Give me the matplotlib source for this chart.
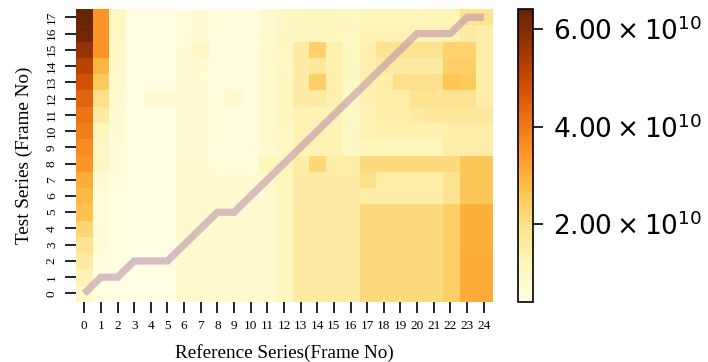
import numpy as np
import matplotlib
matplotlib.use("Agg")
import matplotlib.pyplot as plt
from matplotlib.ticker import FuncFormatter

# Frame indices of the two series
ref_frames = list(range(25))
test_frames = list(range(18))

# Accumulated alignment cost (units of 1e10), one list per test frame,
# listed from test frame 17 (top) down to test frame 0 (bottom)
cost_row_17 = [6.41, 3.50, 1.05, 0.45, 0.45, 0.45, 0.60, 0.70, 0.55, 0.55, 0.55, 0.80, 1.00, 1.10, 1.10, 1.10, 1.00, 1.20, 1.20, 1.20, 1.20, 1.25, 1.25, 1.90, 1.90]
cost_row_16 = [6.25, 3.50, 1.00, 0.45, 0.45, 0.45, 0.60, 0.70, 0.55, 0.55, 0.55, 0.80, 1.00, 1.10, 1.10, 1.10, 1.00, 1.30, 1.30, 1.30, 1.30, 1.30, 1.35, 1.55, 1.50]
cost_row_15 = [5.70, 3.50, 0.95, 0.45, 0.45, 0.45, 0.70, 1.00, 0.55, 0.55, 0.55, 0.90, 1.00, 1.55, 2.35, 1.40, 1.00, 1.40, 1.90, 1.90, 1.90, 1.90, 2.30, 2.30, 1.50]
cost_row_14 = [5.20, 2.90, 0.90, 0.45, 0.45, 0.45, 0.70, 0.80, 0.55, 0.55, 0.55, 0.90, 1.00, 1.55, 1.70, 1.40, 1.00, 1.40, 1.60, 1.60, 1.60, 1.60, 2.40, 2.40, 1.50]
cost_row_13 = [4.80, 2.50, 0.85, 0.45, 0.45, 0.45, 0.70, 0.75, 0.55, 0.55, 0.55, 0.90, 1.10, 1.55, 2.40, 1.40, 1.00, 1.40, 1.50, 2.00, 2.00, 2.00, 2.60, 2.50, 1.50]
cost_row_12 = [4.40, 2.00, 0.80, 0.45, 0.70, 0.70, 0.70, 0.70, 0.55, 0.80, 0.55, 0.90, 1.10, 1.55, 1.60, 1.40, 1.00, 1.40, 1.50, 1.50, 1.90, 1.90, 1.90, 1.90, 1.50]
cost_row_11 = [4.10, 1.60, 0.75, 0.45, 0.45, 0.45, 0.70, 0.70, 0.55, 0.55, 0.55, 0.90, 1.10, 1.30, 1.30, 1.30, 1.00, 1.30, 1.50, 1.50, 1.60, 1.70, 1.70, 1.70, 1.70]
cost_row_10 = [3.90, 1.20, 0.70, 0.45, 0.45, 0.45, 0.70, 0.70, 0.55, 0.55, 0.55, 0.90, 1.00, 1.30, 1.30, 1.30, 1.00, 1.30, 1.40, 1.40, 1.40, 1.40, 1.50, 1.50, 1.50]
cost_row_09 = [3.65, 1.00, 0.65, 0.45, 0.45, 0.45, 0.70, 0.70, 0.55, 0.55, 0.55, 0.80, 1.00, 1.30, 1.30, 1.30, 1.00, 1.20, 1.20, 1.20, 1.20, 1.20, 1.50, 1.50, 1.50]
cost_row_08 = [3.50, 1.00, 0.60, 0.45, 0.45, 0.45, 0.80, 0.85, 0.60, 0.60, 0.60, 1.20, 1.10, 1.50, 2.20, 1.50, 1.50, 2.10, 2.10, 2.10, 2.10, 2.10, 2.10, 2.55, 2.55]
cost_row_07 = [3.05, 0.70, 0.55, 0.45, 0.45, 0.45, 0.85, 0.85, 0.80, 0.80, 0.80, 0.85, 1.10, 1.55, 1.55, 1.55, 1.55, 2.00, 1.50, 1.50, 1.50, 1.50, 1.90, 2.55, 2.55]
cost_row_06 = [2.85, 0.65, 0.50, 0.45, 0.45, 0.45, 0.85, 0.85, 0.80, 0.80, 0.80, 0.80, 1.10, 1.55, 1.55, 1.55, 1.55, 1.50, 1.50, 1.50, 1.50, 1.50, 1.90, 2.55, 2.55]
cost_row_05 = [2.70, 0.60, 0.50, 0.45, 0.45, 0.45, 0.85, 0.85, 0.80, 0.80, 0.80, 0.80, 1.10, 1.60, 1.60, 1.60, 1.60, 2.10, 2.10, 2.10, 2.10, 2.10, 2.40, 3.00, 3.00]
cost_row_04 = [2.25, 0.60, 0.50, 0.45, 0.45, 0.45, 0.85, 0.85, 0.80, 0.80, 0.80, 0.80, 1.10, 1.60, 1.60, 1.60, 1.60, 2.10, 2.10, 2.10, 2.10, 2.10, 2.40, 3.00, 3.00]
cost_row_03 = [1.90, 0.60, 0.50, 0.45, 0.45, 0.45, 0.85, 0.85, 0.80, 0.80, 0.80, 0.80, 1.10, 1.60, 1.60, 1.60, 1.60, 2.10, 2.10, 2.10, 2.10, 2.10, 2.40, 3.00, 3.00]
cost_row_02 = [1.60, 0.55, 0.50, 0.45, 0.45, 0.45, 0.85, 0.85, 0.80, 0.80, 0.80, 0.80, 1.10, 1.60, 1.60, 1.60, 1.60, 2.10, 2.10, 2.10, 2.10, 2.10, 2.40, 3.05, 3.05]
cost_row_01 = [1.30, 0.55, 0.45, 0.45, 0.45, 0.45, 0.85, 0.85, 0.80, 0.80, 0.80, 0.80, 1.10, 1.60, 1.60, 1.60, 1.60, 2.10, 2.10, 2.10, 2.10, 2.10, 2.40, 3.05, 3.05]
cost_row_00 = [0.95, 0.50, 0.45, 0.41, 0.41, 0.41, 0.85, 0.85, 0.80, 0.80, 0.80, 0.80, 1.10, 1.60, 1.60, 1.60, 1.60, 2.10, 2.10, 2.10, 2.10, 2.10, 2.40, 3.10, 3.10]

# Optimal warping path (reference frame, test frame)
path_ref = [0, 1, 2, 3, 4, 5, 6, 7, 8, 9, 10, 11, 12, 13, 14, 15, 16, 17, 18, 19, 20, 21, 22, 23, 24]
path_test = [0, 1, 1, 2, 2, 2, 3, 4, 5, 5, 6, 7, 8, 9, 10, 11, 12, 13, 14, 15, 16, 16, 16, 17, 17]

cbar_ticks = [2e10, 4e10, 6e10]

rows_top_down = [cost_row_17, cost_row_16, cost_row_15, cost_row_14, cost_row_13,
                 cost_row_12, cost_row_11, cost_row_10, cost_row_09, cost_row_08,
                 cost_row_07, cost_row_06, cost_row_05, cost_row_04, cost_row_03,
                 cost_row_02, cost_row_01, cost_row_00]
cost = np.flipud(np.array(rows_top_down)) * 1e10

fig = plt.figure(figsize=(7.08, 3.62), dpi=100)
ax = fig.add_axes([0.1073, 0.1669, 0.5876, 0.8077])
cax = fig.add_axes([0.7323, 0.1669, 0.0212, 0.8077])

im = ax.imshow(cost, cmap="YlOrBr", origin="lower", aspect="auto",
               interpolation="nearest")
ax.plot(path_ref, path_test, color="#bd93ad", alpha=0.6, linewidth=5.2,
        solid_joinstyle="miter", solid_capstyle="butt")

for s in ax.spines.values():
    s.set_visible(False)

serif = "Liberation Serif"
ax.set_xticks(ref_frames)
ax.set_xticklabels([str(v) for v in ref_frames], family=serif, fontsize=9.5)
ax.set_yticks(test_frames)
ax.set_yticklabels([str(v) for v in test_frames], family=serif, fontsize=9.5,
                   rotation=90, va="center")
ax.tick_params(axis="both", length=8, width=1.2, pad=5)
ax.set_xlabel("Reference Series(Frame No)", family=serif, fontsize=13.8, labelpad=9)
ax.set_ylabel("Test Series (Frame No)", family=serif, fontsize=13.8, labelpad=9)

cb = fig.colorbar(im, cax=cax, ticks=cbar_ticks,
                  format=FuncFormatter(lambda v, p: r"$%.2f \times 10^{10}$" % (v / 1e10)))
cb.ax.tick_params(labelsize=19, length=7, width=1.2, pad=7)
cb.outline.set_linewidth(1.2)

fig.savefig("out.png", dpi=100)
